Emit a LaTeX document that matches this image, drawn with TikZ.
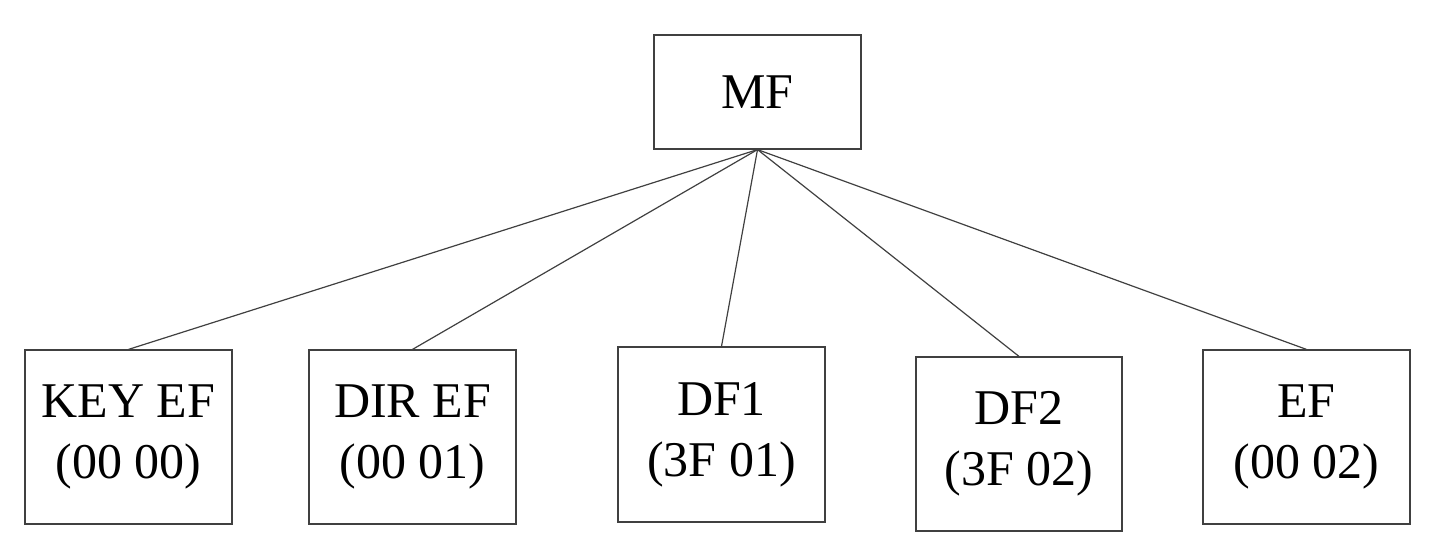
\documentclass[tikz,border=0pt]{standalone}
\usepackage{fontspec}
\setmainfont{Liberation Serif}
\begin{document}
\begin{tikzpicture}[x=1pt,y=-1pt,
  box/.style={draw=black!75,line width=1.2pt,inner sep=0pt,align=center,
    font=\fontsize{50}{61}\selectfont},
  conn/.style={draw=black!75,line width=1.2pt}]
\useasboundingbox (0,0) rectangle (1432,548);
\node[box, minimum width=207pt, minimum height=114pt] (mf) at (757.5,92) {MF};
\node[box, minimum width=207pt, minimum height=174pt] (key) at (128.5,437) {KEY EF\\(00 00)};
\node[box, minimum width=207pt, minimum height=174pt] (dir) at (412.5,437) {DIR EF\\(00 01)};
\node[box, minimum width=207pt, minimum height=175pt] (df1) at (721.5,434.5) {DF1\\(3F 01)};
\node[box, minimum width=206pt, minimum height=174pt] (df2) at (1019,444) {DF2\\(3F 02)};
\node[box, minimum width=207pt, minimum height=174pt] (ef) at (1306.5,437) {EF\\(00 02)};
\draw[conn] (mf.south) -- (key.north);
\draw[conn] (mf.south) -- (dir.north);
\draw[conn] (mf.south) -- (df1.north);
\draw[conn] (mf.south) -- (df2.north);
\draw[conn] (mf.south) -- (ef.north);
\end{tikzpicture}
\end{document}
